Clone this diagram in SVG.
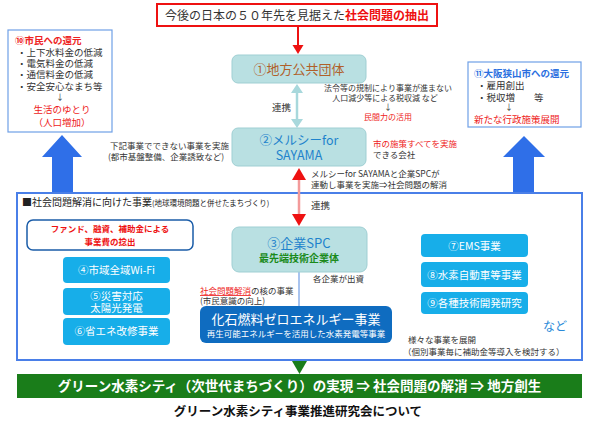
<svg xmlns="http://www.w3.org/2000/svg" width="595" height="428" viewBox="0 0 595 428">
<style>
text{font-family:"Noto Sans CJK JP","Noto Sans",sans-serif;fill:#333}
.s{font-size:8.5px}
.m{font-size:9.5px}
.red{fill:#ee2222}
.wb{fill:#fff}
.teal{fill:#b9e0e2;stroke:#9fcfd3;stroke-width:1}
.btn{fill:#17aee9}
.bt{font-size:10.5px;fill:#fff;text-anchor:middle}
</style>
<rect width="595" height="428" fill="#fff"/>

<g id="main">
<rect x="17" y="193" width="565" height="167" fill="#fff" stroke="#4a7fe8" stroke-width="2"/>
<text x="22" y="206" font-size="10" style="fill:#222">■社会問題解消に向けた事業<tspan font-size="7.5">(地球環境問題と併せたまちづくり)</tspan></text>
</g>

<g id="connectors">
<line x1="298" y1="26" x2="298" y2="46" stroke="#ee1111" stroke-width="2"/>
<path d="M292.5,45 L303.5,45 L298,54 z" fill="#ee1111"/>
<line x1="297" y1="92" x2="297" y2="120" stroke="#a8d8dc" stroke-width="2.5"/>
<path d="M291,93 L303,93 L297,84 z" fill="#a8d8dc"/>
<path d="M291,119 L303,119 L297,128 z" fill="#a8d8dc"/>
<line x1="299" y1="178" x2="299" y2="216" stroke="#f39a9a" stroke-width="2.5"/>
<path d="M292,180 L306,180 L299,168 z" fill="#ee1111"/>
<path d="M292,214 L306,214 L299,226 z" fill="#ee1111"/>
<line x1="299" y1="272" x2="299" y2="306" stroke="#a9c4ef" stroke-width="2"/>
<path d="M62,135 L82,157 L73,157 L73,192 L52,192 L52,157 L42,157 z" fill="#2f6fe8"/>
<path d="M524,136 L545,157 L534,157 L534,192 L513,192 L513,157 L503,157 z" fill="#2f6fe8"/>
<path d="M292,361 L307,361 L299.5,374 z" fill="#1a7d1a"/>
</g>

<g id="top">
<rect x="157" y="4" width="280" height="22" fill="#fff" stroke="#ee1111" stroke-width="2"/>
<text x="297" y="19.5" font-size="12" text-anchor="middle">今後の日本の５０年先を見据えた<tspan fill="#ee1111" font-weight="bold">社会問題の抽出</tspan></text>
</g>

<g id="n1">
<rect x="232" y="55" width="134" height="28" rx="6" class="teal"/>
<text x="299" y="74" font-size="13" text-anchor="middle" style="fill:#b0602a">①地方公共団体</text>
<text x="272" y="111" class="m">連携</text>
<text x="388" y="91" font-size="8" text-anchor="middle">法令等の規制により事業が進まない</text>
<text x="385" y="101" font-size="8" text-anchor="middle">人口減少等による税収減  など</text>
<text x="388" y="110" font-size="8" text-anchor="middle">↓</text>
<text x="388" y="120" font-size="8" class="red" text-anchor="middle">民間力の活用</text>
</g>

<g id="n2">
<rect x="232" y="128" width="134" height="38" rx="6" class="teal"/>
<text x="299" y="145" font-size="12.5" text-anchor="middle" style="fill:#1f83cc">②メルシーfor</text>
<text x="299" y="160" font-size="12.5" text-anchor="middle" style="fill:#1f83cc">SAYAMA</text>
<text x="110" y="149" class="s">下記事業でできない事業を実施</text>
<text x="108" y="160" class="s">(都市基盤整備、企業誘致など)</text>
<text x="373" y="147" class="s red">市の施策すべてを実施</text>
<text x="373" y="158" class="s">できる会社</text>
<text x="311" y="177" class="s">メルシーfor SAYAMAと企業SPCが</text>
<text x="311" y="188" class="s">連動し事業を実施⇒社会問題の解消</text>
<text x="311" y="209" class="m">連携</text>
</g>

<g id="n10">
<rect x="8" y="30" width="104" height="102" fill="#fff" stroke="#6fa0e6" stroke-width="1.2"/>
<text x="15" y="44" font-size="9.5" font-weight="bold" style="fill:#ee2222">⑩市民への還元</text>
<text x="17" y="56" class="m">・上下水料金の低減</text>
<text x="17" y="67" class="m">・電気料金の低減</text>
<text x="17" y="78" class="m">・通信料金の低減</text>
<text x="17" y="90" class="m">・安全安心なまち等</text>
<text x="60" y="100" font-size="8" text-anchor="middle">↓</text>
<text x="62" y="113" class="m red" text-anchor="middle">生活のゆとり</text>
<text x="62" y="126" class="m red" text-anchor="middle">（人口増加）</text>
</g>

<g id="n11">
<rect x="468" y="62" width="113" height="65" fill="#fff" stroke="#6fa0e6" stroke-width="1.2"/>
<text x="474" y="77" font-size="9.5" font-weight="bold" style="fill:#2a6fe0">⑪大阪狭山市への還元</text>
<text x="477" y="89" class="m">・雇用創出</text>
<text x="477" y="101" class="m">・税収増　　等</text>
<text x="509" y="110" font-size="8" text-anchor="middle">↓</text>
<text x="474" y="123" class="m red">新たな行政施策展開</text>
</g>

<g id="fund">
<rect x="27" y="220" width="166" height="30" rx="6" fill="#fff" stroke="#1a5ca8" stroke-width="1.5"/>
<text x="110" y="232" font-size="8.5" font-weight="bold" text-anchor="middle" style="fill:#ee1111">ファンド、融資、補助金による</text>
<text x="110" y="245" font-size="8.5" font-weight="bold" text-anchor="middle" style="fill:#ee1111">事業費の捻出</text>
</g>

<g id="n4"><rect x="63" y="257" width="107" height="26" rx="4" class="btn"/><text x="116.5" y="274" class="bt">④市域全域Wi-Fi</text></g>
<g id="n5"><rect x="63" y="288" width="107" height="27" rx="4" class="btn"/><text x="116.5" y="299.5" class="bt">⑤災害対応</text><text x="116.5" y="311.5" class="bt">太陽光発電</text></g>
<g id="n6"><rect x="63" y="318" width="107" height="27" rx="4" class="btn"/><text x="116.5" y="335" class="bt">⑥省エネ改修事業</text></g>

<g id="n3">
<rect x="232" y="227" width="135" height="45" rx="7" class="teal"/>
<text x="299" y="248" font-size="13" text-anchor="middle" style="fill:#1f83cc">③企業SPC</text>
<text x="299" y="262" font-size="10" font-weight="bold" text-anchor="middle" style="fill:#1a8a1a">最先端技術企業体</text>
<text x="313" y="282" class="s">各企業が出資</text>
<text x="200" y="294" class="s"><tspan fill="#ee2222" text-decoration="underline">社会問題解消</tspan>の核の事業</text>
<text x="200" y="304" class="s">(市民意識の向上)</text>
</g>

<g id="fossil">
<rect x="200" y="306" width="192" height="37" rx="6" fill="#0f6cc0"/>
<text x="296" y="324" font-size="13" text-anchor="middle" class="wb">化石燃料ゼロエネルギー事業</text>
<text x="296" y="337" font-size="8.5" text-anchor="middle" class="wb">再生可能エネルギーを活用した水素発電等事業</text>
</g>

<g id="n7"><rect x="421" y="234" width="107" height="23" rx="4" class="btn"/><text x="474.5" y="249.5" class="bt">⑦EMS事業</text></g>
<g id="n8"><rect x="421" y="262" width="107" height="25" rx="4" class="btn"/><text x="474.5" y="278.5" class="bt">⑧水素自動車等事業</text></g>
<g id="n9"><rect x="421" y="292" width="107" height="22" rx="4" class="btn"/><text x="474.5" y="307" class="bt">⑨各種技術開発研究</text></g>

<g id="misc">
<text x="543" y="331" font-size="12" style="fill:#2a8ad8">など</text>
<text x="408" y="343" class="s">様々な事業を展開</text>
<text x="403" y="355" class="s">（個別事業毎に補助金等導入を検討する）</text>
</g>

<g id="bottom">
<rect x="17" y="374" width="565" height="24" fill="#1a7d1a"/>
<text x="299.5" y="391" font-size="13.5" font-weight="bold" text-anchor="middle" class="wb">グリーン水素シティ（次世代まちづくり）の実現 ⇒ 社会問題の解消 ⇒ 地方創生</text>
<text x="298" y="416" font-size="12.5" font-weight="bold" text-anchor="middle" style="fill:#111">グリーン水素シティ事業推進研究会について</text>
</g>
</svg>
